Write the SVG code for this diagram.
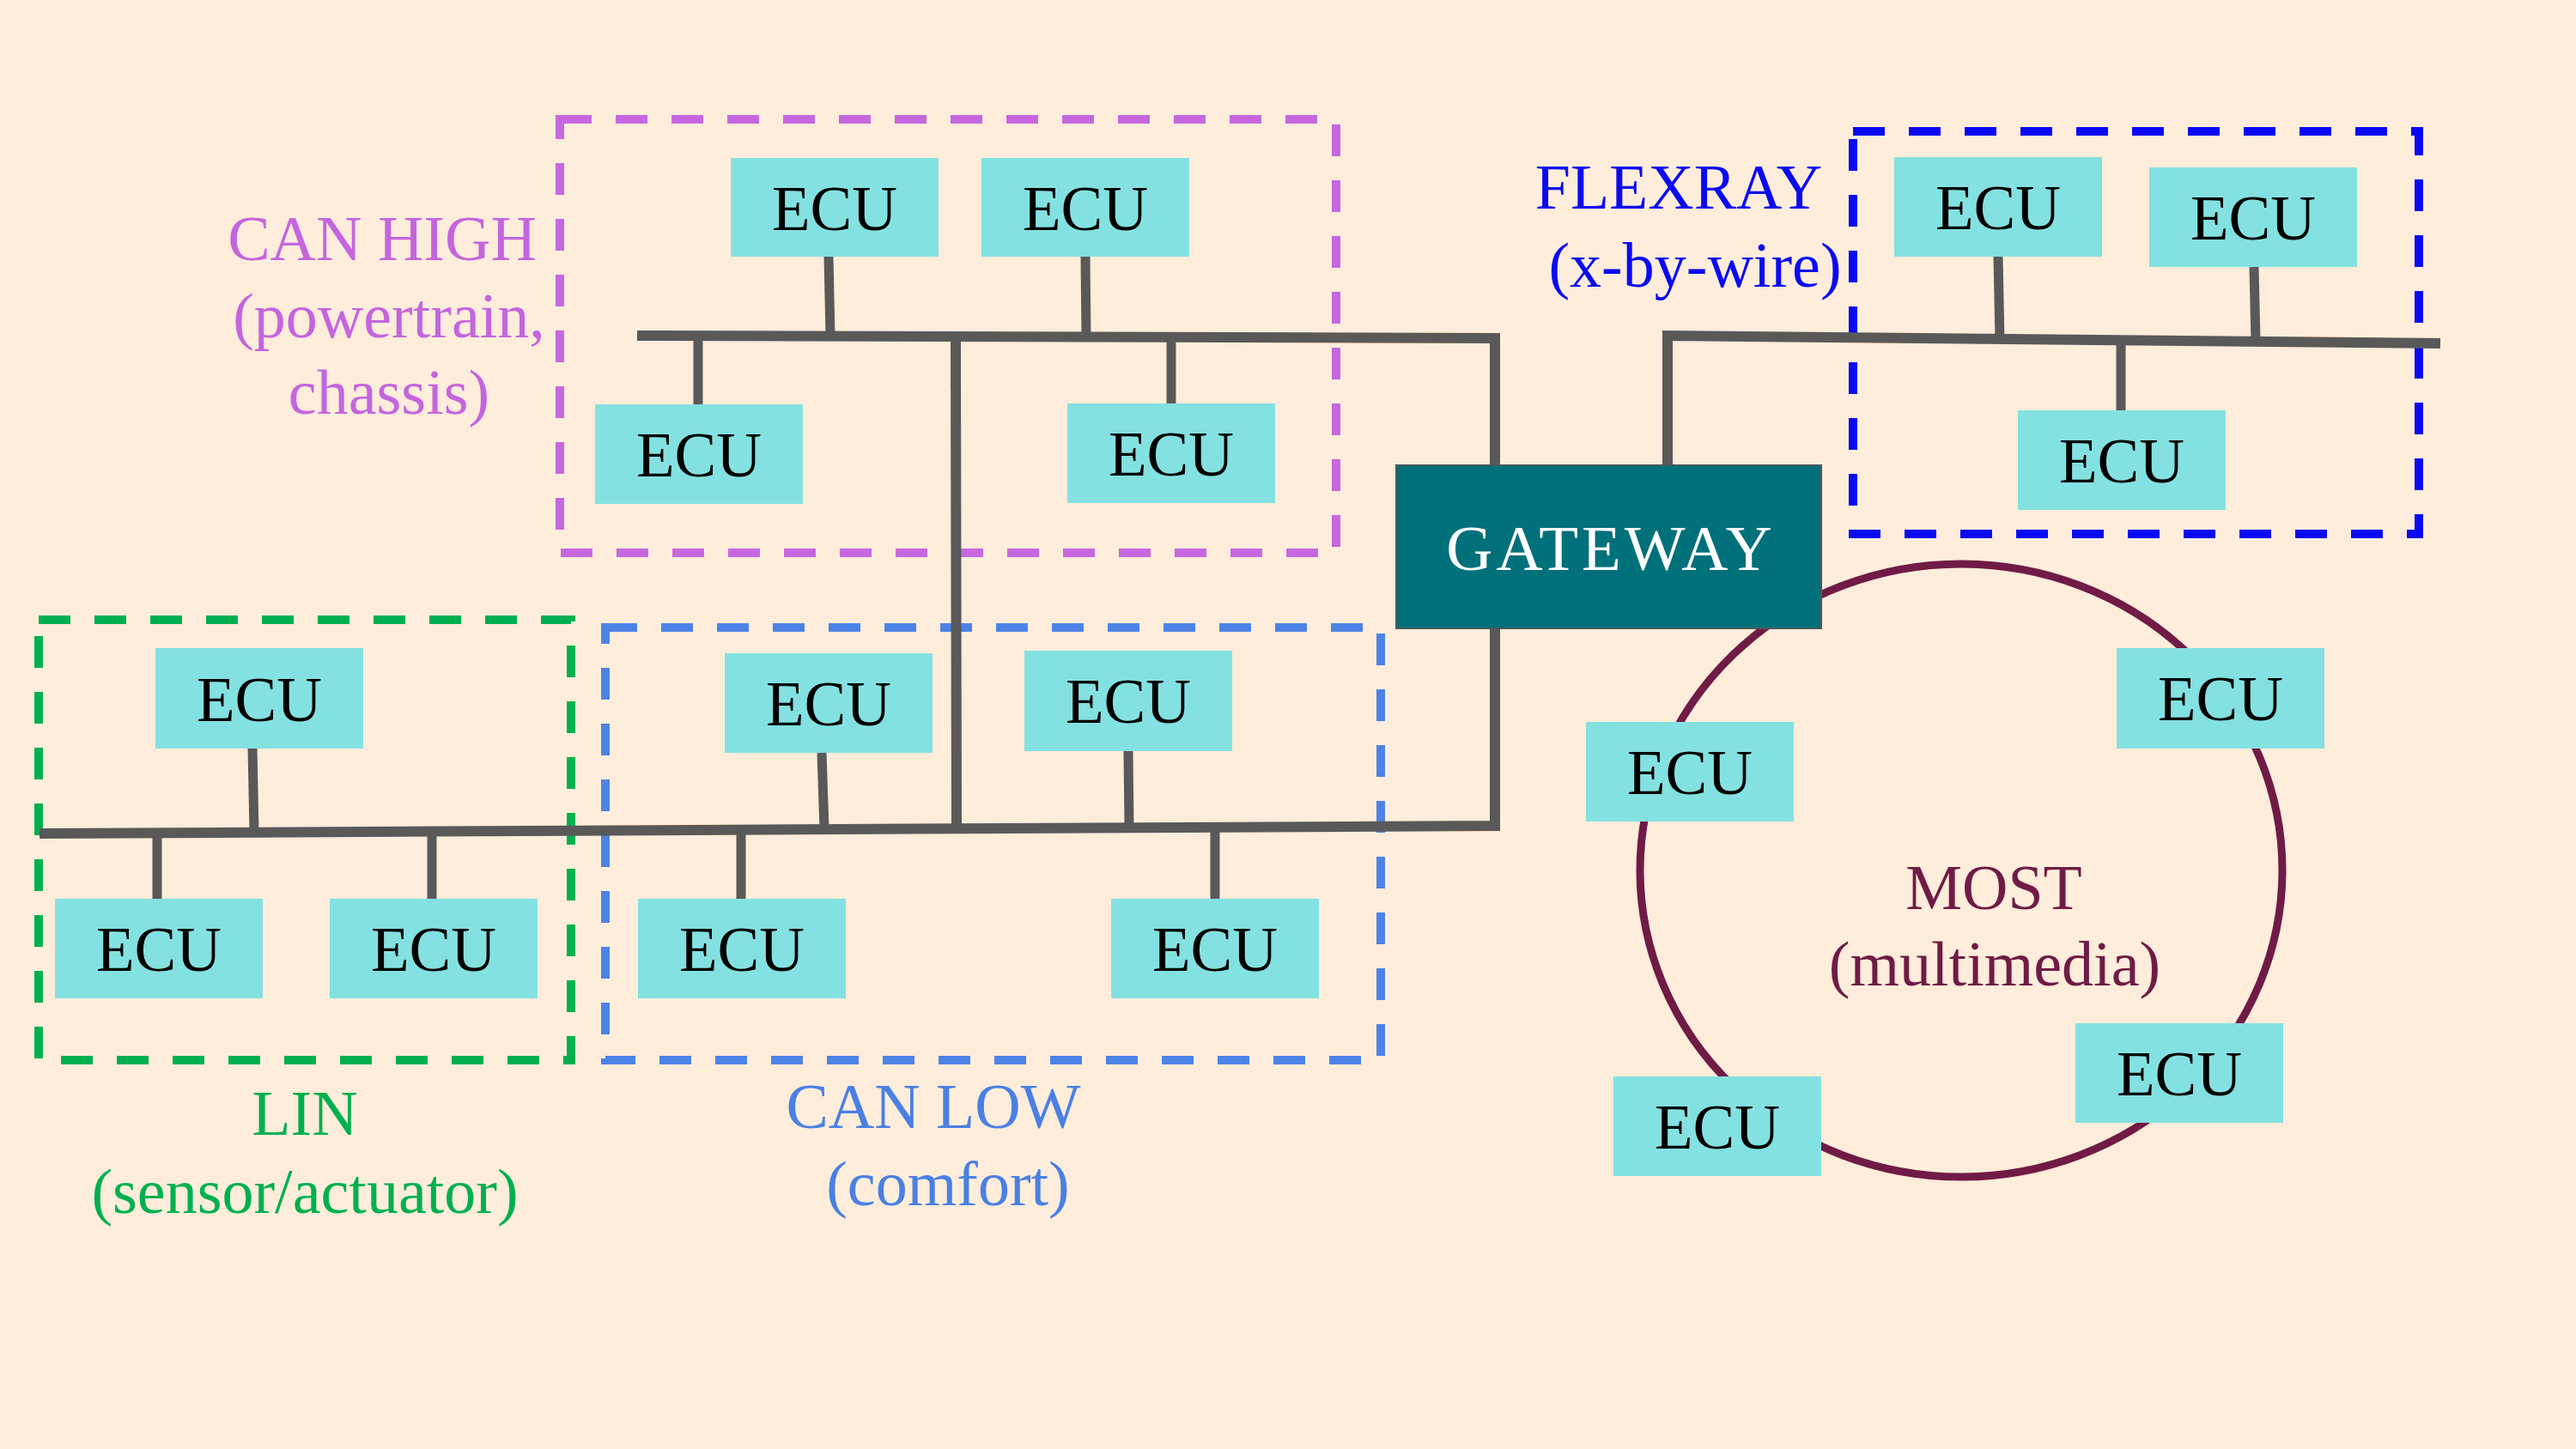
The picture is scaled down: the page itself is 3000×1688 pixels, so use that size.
<svg xmlns="http://www.w3.org/2000/svg" width="3000" height="1688" viewBox="0 0 3000 1688">
<style>
.ecu rect{fill:#84E1E1}
.ecu text{font-family:"Liberation Serif","Times New Roman",serif;font-size:73px;fill:#000;text-anchor:middle}
.lbl{font-family:"Liberation Serif","Times New Roman",serif;font-size:74px;text-anchor:middle}
.bus{fill:none;stroke:#595959;stroke-width:12;stroke-linejoin:miter;stroke-linecap:butt}
.stub{fill:none;stroke:#595959;stroke-width:11}
.grp{fill:none;stroke-width:10;stroke-dasharray:37 28}
</style>
<rect x="0" y="0" width="3000" height="1688" fill="#FFEDDB"/>

<g id="groups">
<rect id="canhigh-box" class="grp" x="652" y="139" width="904" height="505" stroke="#C767E0"/>
<rect id="flexray-box" class="grp" x="2158" y="153" width="659" height="469" stroke="#0A0AF2"/>
<rect id="lin-box" class="grp" x="45" y="722" width="620" height="513" stroke="#00B050"/>
<rect id="canlow-box" class="grp" x="705" y="731" width="903" height="504" stroke="#4D83E6"/>
<ellipse id="most-ring" cx="2284" cy="1014" rx="374" ry="357" fill="none" stroke="#701B46" stroke-width="9"/>
</g>

<g id="connectors">
<path class="bus" d="M742,391 L1741,394 L1741,542"/>
<path class="bus" d="M1942,542 L1942,391 L2842,400"/>
<path class="bus" d="M46,971 L1741,962 L1741,732"/>
<path class="bus" d="M1113,394 L1114,966"/>
<path class="stub" d="M965,299 L967,392"/>
<path class="stub" d="M1264,299 L1265,393"/>
<path class="stub" d="M813,471 L813,392"/>
<path class="stub" d="M1364,470 L1364,394"/>
<path class="stub" d="M2327,299 L2329,396"/>
<path class="stub" d="M2625,311 L2627,398"/>
<path class="stub" d="M2470,478 L2470,397"/>
<path class="stub" d="M294,872 L296,969"/>
<path class="stub" d="M183,1047 L183,970"/>
<path class="stub" d="M503,1047 L503,968"/>
<path class="stub" d="M957,877 L960,966"/>
<path class="stub" d="M1314,875 L1315,964"/>
<path class="stub" d="M863,1047 L863,967"/>
<path class="stub" d="M1415,1055 L1415,965"/>
</g>

<g id="gateway">
<rect x="1626" y="542" width="495" height="190" fill="#00707A" stroke="#4A5A5C" stroke-width="2"/>
<text x="1876" y="664" font-family="Liberation Serif, Times New Roman, serif" font-size="75" letter-spacing="4" fill="#FFFFFF" text-anchor="middle">GATEWAY</text>
</g>

<g id="ecu-ch1" class="ecu"><rect x="851" y="184" width="242" height="115"/><text x="972" y="268">ECU</text></g>
<g id="ecu-ch2" class="ecu"><rect x="1143" y="184" width="242" height="115"/><text x="1264" y="268">ECU</text></g>
<g id="ecu-ch3" class="ecu"><rect x="693" y="471" width="242" height="116"/><text x="814" y="555">ECU</text></g>
<g id="ecu-ch4" class="ecu"><rect x="1243" y="470" width="242" height="116"/><text x="1364" y="554">ECU</text></g>

<g id="ecu-fr1" class="ecu"><rect x="2206" y="183" width="242" height="116"/><text x="2327" y="267">ECU</text></g>
<g id="ecu-fr2" class="ecu"><rect x="2503" y="195" width="242" height="116"/><text x="2624" y="279">ECU</text></g>
<g id="ecu-fr3" class="ecu"><rect x="2350" y="478" width="242" height="116"/><text x="2471" y="562">ECU</text></g>

<g id="ecu-lin1" class="ecu"><rect x="181" y="755" width="242" height="117"/><text x="302" y="840">ECU</text></g>
<g id="ecu-lin2" class="ecu"><rect x="64" y="1047" width="242" height="116"/><text x="185" y="1131">ECU</text></g>
<g id="ecu-lin3" class="ecu"><rect x="384" y="1047" width="242" height="116"/><text x="505" y="1131">ECU</text></g>

<g id="ecu-cl1" class="ecu"><rect x="844" y="761" width="242" height="116"/><text x="965" y="845">ECU</text></g>
<g id="ecu-cl2" class="ecu"><rect x="1193" y="758" width="242" height="117"/><text x="1314" y="842">ECU</text></g>
<g id="ecu-cl3" class="ecu"><rect x="743" y="1047" width="242" height="116"/><text x="864" y="1131">ECU</text></g>
<g id="ecu-cl4" class="ecu"><rect x="1294" y="1047" width="242" height="116"/><text x="1415" y="1131">ECU</text></g>

<g id="ecu-m1" class="ecu"><rect x="1847" y="841" width="242" height="116"/><text x="1968" y="925">ECU</text></g>
<g id="ecu-m2" class="ecu"><rect x="2465" y="755" width="242" height="117"/><text x="2586" y="839">ECU</text></g>
<g id="ecu-m3" class="ecu"><rect x="2417" y="1192" width="242" height="116"/><text x="2538" y="1276">ECU</text></g>
<g id="ecu-m4" class="ecu"><rect x="1879" y="1254" width="242" height="116"/><text x="2000" y="1338">ECU</text></g>

<g id="labels">
<text class="lbl" fill="#C465DE" x="445" y="303">CAN HIGH</text>
<text class="lbl" fill="#C465DE" x="453" y="393">(powertrain,</text>
<text class="lbl" fill="#C465DE" x="453" y="482">chassis)</text>
<text class="lbl" fill="#0A0AF2" x="1955" y="243">FLEXRAY</text>
<text class="lbl" fill="#0A0AF2" x="1974" y="334">(x-by-wire)</text>
<text class="lbl" fill="#00B050" x="355" y="1322">LIN</text>
<text class="lbl" fill="#00B050" x="355" y="1413">(sensor/actuator)</text>
<text class="lbl" fill="#4A80E3" x="1087" y="1314">CAN LOW</text>
<text class="lbl" fill="#4A80E3" x="1104" y="1404">(comfort)</text>
<text class="lbl" fill="#701B46" x="2322" y="1059">MOST</text>
<text class="lbl" fill="#701B46" x="2323" y="1148">(multimedia)</text>
</g>
</svg>
